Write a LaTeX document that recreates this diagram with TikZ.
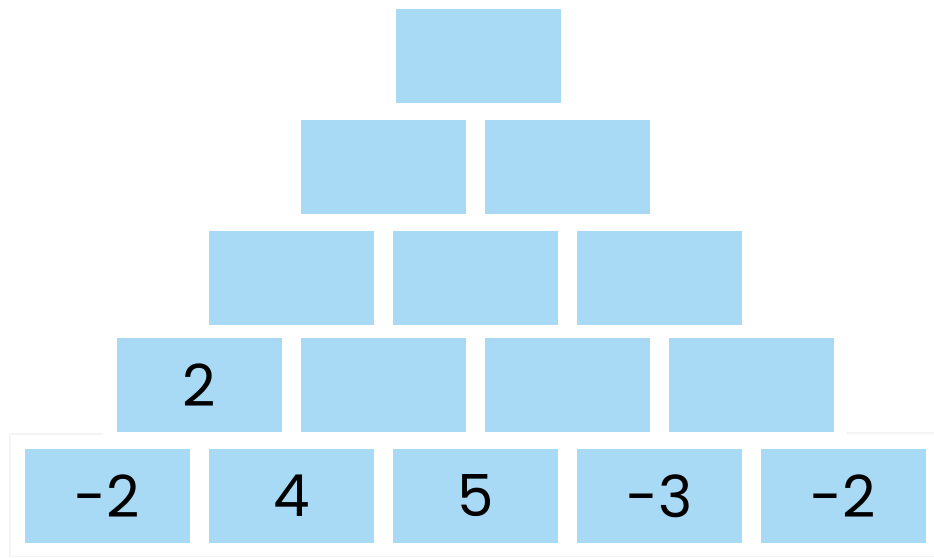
\documentclass[tikz,border=0pt]{standalone}
\usepackage{fontspec}
\setmainfont{Poppins}
\definecolor{boxblue}{RGB}{168,218,245}
\definecolor{framegray}{RGB}{244,244,244}
\tikzset{
  brick/.style={fill=boxblue, draw=none, minimum width=165pt, minimum height=94pt, inner sep=0pt, font=\fontsize{58}{62}\selectfont, text=black},
}
\begin{document}
\begin{tikzpicture}[x=1pt,y=1pt]
\useasboundingbox (0,0) rectangle (934,557);
% faint frame
\coordinate (fa) at (10,123);
\coordinate (fb) at (10,0);
\coordinate (fc) at (103,123);
\coordinate (fd) at (847,124);
\coordinate (fe) at (934,124);
\coordinate (ff) at (10,1);
\coordinate (fg) at (934,1);
\draw[framegray, line width=1.2pt] (fc) -- (fa) -- (fb);
\draw[framegray, line width=1.2pt] (fd) -- (fe);
\draw[framegray, line width=1pt] (ff) -- (fg);
% row 5
\node[brick] (e1) at (107.5,61) {-2};
\node[brick] (e2) at (291.5,61) {4};
\node[brick] (e3) at (475.5,61) {5};
\node[brick] (e4) at (659.5,61) {-3};
\node[brick] (e5) at (843.5,61) {-2};
% row 4
\node[brick] (d1) at (199.5,171.5) {2};
\node[brick] (d2) at (383.5,171.5) {};
\node[brick] (d3) at (567.5,171.5) {};
\node[brick] (d4) at (751.5,171.5) {};
% row 3
\node[brick] (c1) at (291.5,279) {};
\node[brick] (c2) at (475.5,279) {};
\node[brick] (c3) at (659.5,279) {};
% row 2
\node[brick] (b1) at (383.5,390) {};
\node[brick] (b2) at (567.5,390) {};
% row 1
\node[brick] (a1) at (478,501) {};
\end{tikzpicture}
\end{document}
